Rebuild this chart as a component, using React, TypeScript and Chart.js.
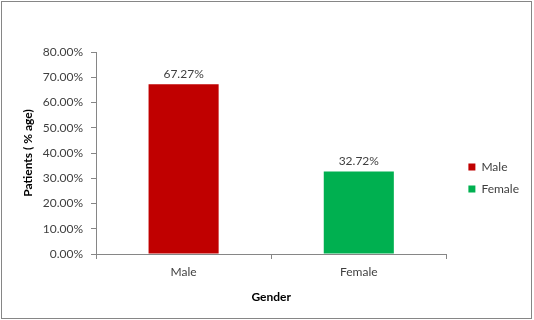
import React, { useEffect, useRef } from "react";
import { Chart, registerables } from "chart.js";

Chart.register(...registerables);

const categories = ["Male", "Female"];
const seriesNames = ["Male", "Female"];
const maleValues = [67.27, null];
const femaleValues = [null, 32.72];
const seriesColors = ["#C00000", "#00B050"];
const yMin = 0;
const yMax = 80;
const yStep = 10;

const FONT = "Lato, 'Open Sans', sans-serif";
const TEXT = "#3f3f3f";
const AXIS = "#868686";

const valueLabels = {
  id: "valueLabels",
  afterDatasetsDraw(chart: any) {
    const ctx = chart.ctx;
    ctx.save();
    ctx.font = `12px ${FONT}`;
    ctx.fillStyle = TEXT;
    ctx.textAlign = "center";
    ctx.textBaseline = "middle";
    chart.data.datasets.forEach((ds: any, di: number) => {
      const meta = chart.getDatasetMeta(di);
      meta.data.forEach((el: any, i: number) => {
        const v = ds.data[i];
        if (v === null || v === undefined) return;
        ctx.fillText(v.toFixed(2) + "%", el.x, el.y - 10);
      });
    });
    ctx.restore();
  },
};

export default function App() {
  const ref = useRef<HTMLCanvasElement>(null);
  useEffect(() => {
    const chart = new Chart(ref.current as HTMLCanvasElement, {
      type: "bar",
      data: {
        labels: categories,
        datasets: [
          { label: seriesNames[0], data: maleValues, backgroundColor: seriesColors[0] },
          { label: seriesNames[1], data: femaleValues, backgroundColor: seriesColors[1] },
        ],
      },
      options: {
        animation: false,
        responsive: false,
        devicePixelRatio: 1,
        skipNull: true,
        categoryPercentage: 1,
        barPercentage: 0.4,
        layout: { padding: { left: 10, top: 52, bottom: 10, right: 5 } },
        plugins: {
          tooltip: { enabled: false },
          legend: {
            position: "right",
            fullSize: false,
            align: "center",
            title: { display: true, text: " ", font: { size: 10 }, padding: { top: 19, bottom: 19 } },
            labels: {
              boxWidth: 7,
              boxHeight: 7,
              padding: 10,
              color: TEXT,
              font: { family: FONT, size: 12 },
            },
          },
        },
        scales: {
          x: {
            grid: { display: true, drawOnChartArea: false, drawTicks: true, tickLength: 5, color: AXIS },
            border: { display: true, color: AXIS },
            ticks: { color: TEXT, font: { family: FONT, size: 12 }, padding: 6 },
            title: {
              display: true,
              text: "Gender",
              color: "#000",
              font: { family: FONT, size: 12, weight: "bold" },
              padding: { top: 4, bottom: 5.8 },
            },
            afterFit: (s: any) => { s.height = 56; },
          },
          y: {
            min: yMin,
            max: yMax,
            grid: { display: true, drawOnChartArea: false, drawTicks: true, tickLength: 5, color: AXIS },
            border: { display: true, color: AXIS },
            ticks: {
              stepSize: yStep,
              color: TEXT,
              font: { family: FONT, size: 12 },
              padding: 8,
              callback: (v: any) => Number(v).toFixed(2) + "%",
            },
            title: {
              display: true,
              text: "Patients ( % age)",
              color: "#000",
              font: { family: FONT, size: 12, weight: "bold" },
              padding: { top: 10.8, bottom: 4 },
            },
            afterFit: (s: any) => { s.width = 86; },
          },
          gap: {
            type: "linear",
            position: "right",
            display: true,
            grid: { display: false },
            border: { display: false },
            ticks: { display: false },
            afterFit: (s: any) => { s.width = 12; },
          },
        },
      },
      plugins: [valueLabels],
    } as any);
    return () => chart.destroy();
  }, []);
  return (
    <div style={{ position: "absolute", left: 0, top: 0, width: 534, height: 320, background: "#fff" }}>
      <canvas ref={ref} width={534} height={320} style={{ position: "absolute", left: 0, top: 0, width: 534, height: 320 }} />
      <div
        style={{
          position: "absolute",
          left: 1,
          top: 1,
          width: 531,
          height: 318,
          boxSizing: "border-box",
          border: `1px solid ${AXIS}`,
          pointerEvents: "none",
        }}
      />
    </div>
  );
}
